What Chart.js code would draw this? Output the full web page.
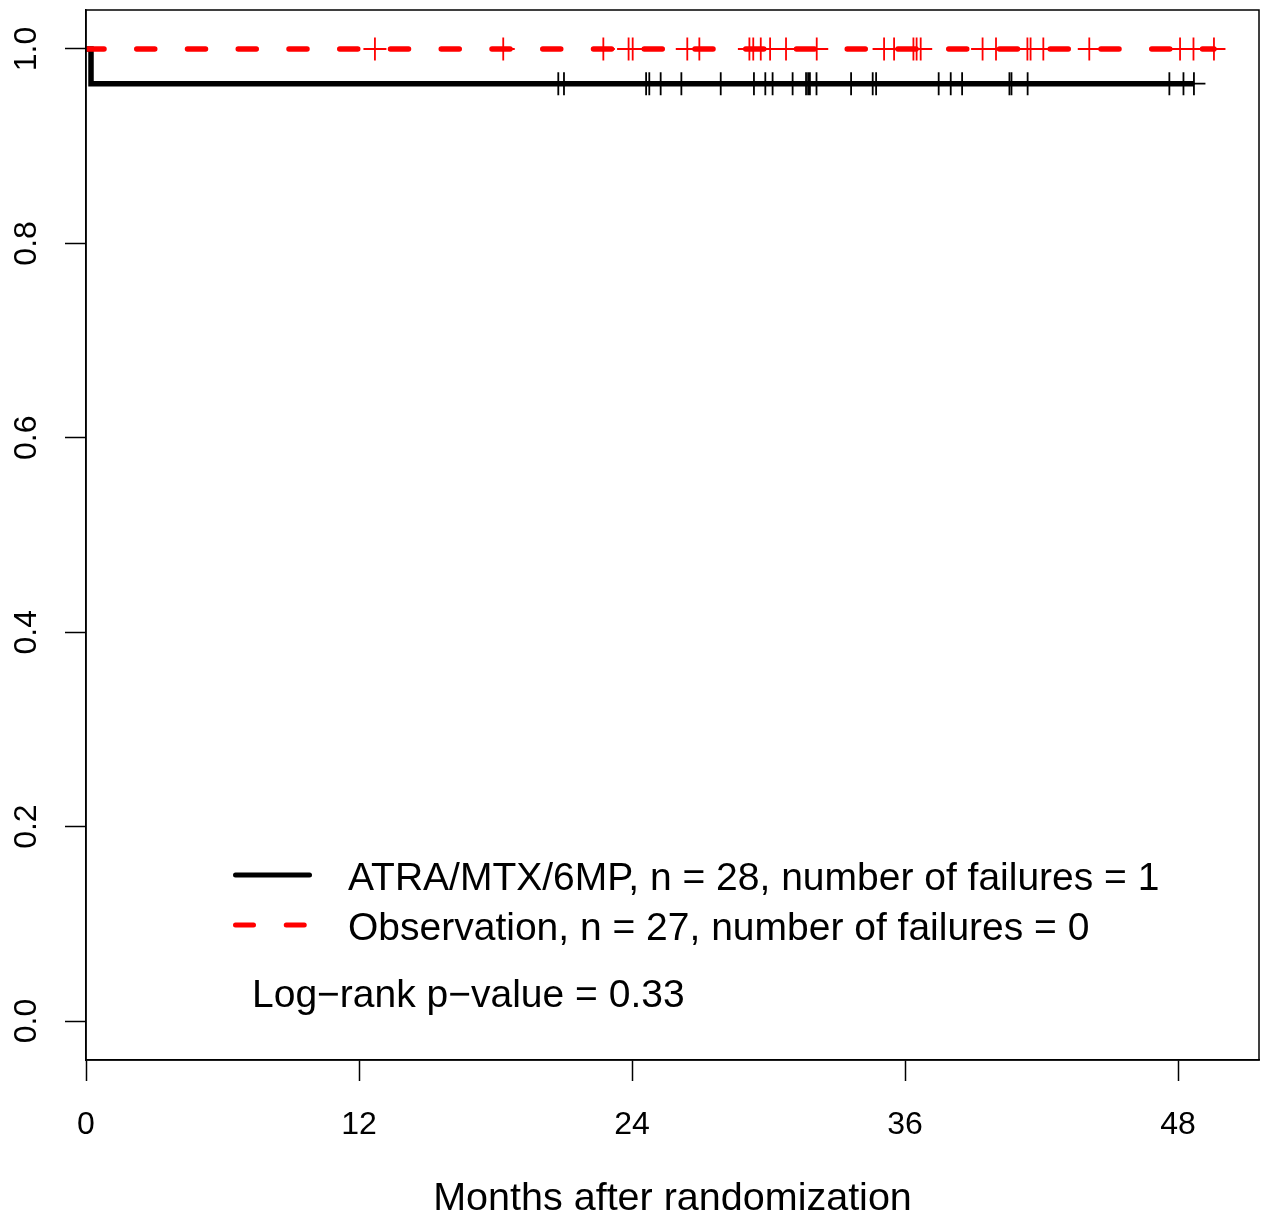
<!DOCTYPE html>
<html>
<head>
<meta charset="utf-8">
<script src="https://cdn.jsdelivr.net/npm/chart.js@4.4.1/dist/chart.umd.min.js"></script>
<style>
html,body{margin:0;padding:0;background:#fff;}
#c{display:block;}
</style>
</head>
<body>
<canvas id="c" width="1265" height="1221"></canvas>
<script>
// ---- data ----
const xTickValues = [0, 12, 24, 36, 48];
const xTickLabels = ["0", "12", "24", "36", "48"];
const yTickValues = [0, 0.2, 0.4, 0.6, 0.8, 1.0];
const yTickLabels = ["0.0", "0.2", "0.4", "0.6", "0.8", "1.0"];
const xAxisTitle = "Months after randomization";

const seriesLabels = [
  "ATRA/MTX/6MP, n = 28, number of failures = 1",
  "Observation, n = 27, number of failures = 0"
];
const pValueText = "Log\u2212rank p\u2212value = 0.33";

// ATRA/MTX/6MP: KM step curve
const armATimes = [0, 0.22, 48.70];
const armASurv  = [1, 0.9643, 0.9643];
const armACensor = [20.76, 21.01, 24.62, 24.76, 25.26, 26.17, 27.90, 29.36, 29.86, 30.18,
  31.06, 31.65, 31.74, 31.82, 32.11, 33.63, 34.58, 34.73, 37.48, 38.01, 38.51,
  40.59, 40.68, 41.39, 47.62, 48.24, 48.70];

// Observation: KM curve
const armBTimes = [0, 49.58];
const armBSurv  = [1, 1];
const armBCensor = [12.70, 18.34, 22.74, 23.85, 24.03, 26.43, 26.96, 29.16, 29.33, 29.66,
  30.07, 30.77, 32.12, 35.08, 35.52, 36.37, 36.51, 36.69, 39.41, 40.00, 41.38, 41.52,
  42.08, 44.10, 48.09, 48.68, 49.58];

// ---- helpers ----
function stepPoints(times, surv){ return times.map((t,i)=>({x:t, y:surv[i]})); }
function survAt(times, surv, t){
  let s = surv[0];
  for (let i=0;i<times.length;i++){ if (times[i] <= t) s = surv[i]; }
  return s;
}
function censorPoints(ct, times, surv){ return ct.map(t=>({x:t, y:survAt(times, surv, t)})); }

const FONT = "'Liberation Sans', Arial, Helvetica, sans-serif";
const RED = '#FF0000';

const overlay = {
  id: 'overlay',
  afterDraw(chart){
    const ctx = chart.ctx, a = chart.chartArea;
    ctx.save();
    // box
    ctx.strokeStyle = '#000'; ctx.lineWidth = 1.5;
    ctx.strokeRect(a.left, a.top, a.right - a.left, a.bottom - a.top);
    // legend
    ctx.lineCap = 'round';
    ctx.lineWidth = 5;
    ctx.strokeStyle = '#000';
    ctx.setLineDash([]);
    ctx.beginPath(); ctx.moveTo(235.5, 875); ctx.lineTo(309.5, 875); ctx.stroke();
    ctx.strokeStyle = RED;
    ctx.setLineDash([18, 32.75]);
    ctx.beginPath(); ctx.moveTo(235.5, 925); ctx.lineTo(309.5, 925); ctx.stroke();
    ctx.setLineDash([]);
    ctx.fillStyle = '#000';
    ctx.font = '39px ' + FONT;
    ctx.textAlign = 'left'; ctx.textBaseline = 'alphabetic';
    ctx.fillText(seriesLabels[0], 348, 890);
    ctx.fillText(seriesLabels[1], 348, 940);
    ctx.fillText(pValueText, 252, 1007);
    ctx.restore();
  }
};

function noPad(s){ s.paddingTop = 0; s.paddingBottom = 0; s.paddingLeft = 0; s.paddingRight = 0; }

new Chart(document.getElementById('c'), {
  type: 'scatter',
  data: {
    datasets: [
      { label: seriesLabels[1] + ' censored', data: censorPoints(armBCensor, armBTimes, armBSurv),
        pointStyle: 'cross', pointRadius: 11.5, pointBorderWidth: 1.8, borderColor: RED,
        backgroundColor: RED, showLine: false, order: 0 },
      { label: seriesLabels[1], data: stepPoints(armBTimes, armBSurv), showLine: true,
        stepped: 'before', borderColor: RED, borderWidth: 5.5, borderDash: [18, 32.75],
        borderCapStyle: 'round', pointRadius: 0, order: 1 },
      { label: seriesLabels[0] + ' censored', data: censorPoints(armACensor, armATimes, armASurv),
        pointStyle: 'cross', pointRadius: 11.5, pointBorderWidth: 1.8, borderColor: '#000',
        backgroundColor: '#000', showLine: false, order: 2 },
      { label: seriesLabels[0], data: stepPoints(armATimes, armASurv), showLine: true,
        stepped: 'before', borderColor: '#000', borderWidth: 5.5, borderCapStyle: 'butt',
        borderJoinStyle: 'miter', pointRadius: 0, order: 3 }
    ]
  },
  options: {
    responsive: false,
    animation: false,
    devicePixelRatio: 1,
    layout: { autoPadding: false, padding: { left: 0, top: 10, right: 6, bottom: 0 } },
    plugins: { legend: { display: false }, tooltip: { enabled: false } },
    scales: {
      x: {
        type: 'linear', min: 0, max: 51.56,
        afterBuildTicks(s){ s.ticks = xTickValues.map(v=>({value:v})); },
        afterFit(s){ s.height = 161; noPad(s); },
        ticks: {
          callback: (v)=> xTickLabels[xTickValues.indexOf(v)] ?? '',
          color: '#000', font: { family: FONT, size: 32 }, padding: 25, maxRotation: 0
        },
        grid: { drawOnChartArea: false, drawTicks: true, tickLength: 21, tickColor: '#000', tickWidth: 1.5 },
        border: { display: true, color: '#000', width: 1.5 },
        title: { display: true, text: xAxisTitle, color: '#000', font: { family: FONT, size: 39.5, lineHeight: 1 },
                 padding: { top: 0, bottom: 2 } }
      },
      y: {
        type: 'linear', min: -0.0401, max: 1.0401,
        afterBuildTicks(s){ s.ticks = yTickValues.map(v=>({value:v})); },
        afterFit(s){ s.width = 86; noPad(s); },
        ticks: {
          callback: (v)=> { const i = yTickValues.findIndex(t=>Math.abs(t-v)<1e-9); return i>=0 ? yTickLabels[i] : ''; },
          color: '#000', font: { family: FONT, size: 32 }, padding: 16, minRotation: 90, maxRotation: 90,
          crossAlign: 'center'
        },
        grid: { drawOnChartArea: false, drawTicks: true, tickLength: 21, tickColor: '#000', tickWidth: 1.5 },
        border: { display: true, color: '#000', width: 1.5 }
      }
    }
  },
  plugins: [overlay]
});
</script>
</body>
</html>
